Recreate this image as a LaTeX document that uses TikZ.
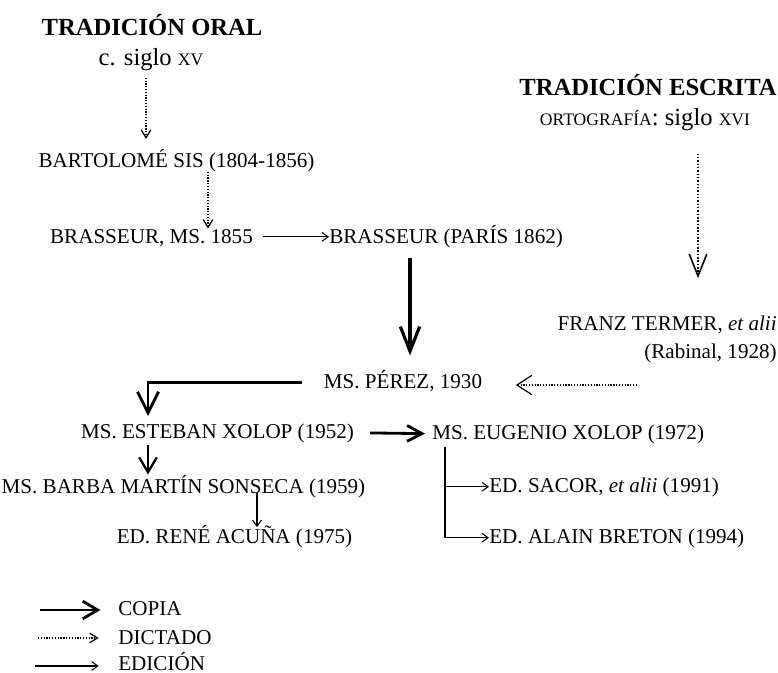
\documentclass[tikz,border=0pt]{standalone}
\usepackage{fontspec}
\setmainfont{Liberation Serif}
\usetikzlibrary{arrows.meta}
\newcommand\versalita[1]{{\fontsize{10}{12}\selectfont #1}}

\begin{document}
\begin{tikzpicture}[x=0.02cm, y=-0.02cm,
    txt/.style={inner sep=0pt, font=\fontsize{12}{14}\selectfont},
    titulo/.style={inner sep=0pt, font=\fontsize{14}{16}\selectfont\bfseries},
    subtitulo/.style={inner sep=0pt, font=\fontsize{14}{16}\selectfont},
    copia/.style 2 args={line width=1.6pt, -{Straight Barb[length=#1, width=#2]}},
    dictado/.style 2 args={line width=0.7pt, dash pattern=on 0.7pt off 0.9pt, -{Straight Barb[length=#1, width=#2]}},
    edicion/.style={line width=0.6pt, -{Straight Barb[length=3.5pt, width=5pt]}}]
    \useasboundingbox (0,0) rectangle (778,673);
    \path
    node[titulo, anchor=base](oral)at(152,35){TRADICIÓN ORAL}
    node[subtitulo, anchor=base](siglo)at(151,65){c. siglo \versalita{XV}}
    node[txt, anchor=base](bartolome)at(176.5,167){BARTOLOMÉ SIS (1804-1856)}
    node[txt, anchor=base](brasseurms)at(151.5,243){BRASSEUR, MS. 1855}
    node[txt, anchor=base west](paris)at(329,243){BRASSEUR (PARÍS 1862)}
    node[titulo, anchor=base east](escrita)at(777,95){TRADICIÓN ESCRITA}
    node[subtitulo, anchor=base](ortografia)at(645,125){\versalita{ORTOGRAFÍA}: siglo \versalita{XVI}}
    node[txt, anchor=base east](termer)at(777,330){FRANZ TERMER, \textit{et alii}}
    node[txt, anchor=base east](rabinal)at(777,358){(Rabinal, 1928)}
    node[txt, anchor=base](perez)at(403,388){MS. PÉREZ, 1930}
    node[txt, anchor=base](esteban)at(217.5,438){MS. ESTEBAN XOLOP (1952)}
    node[txt, anchor=base west](eugenio)at(432,439){MS. EUGENIO XOLOP (1972)}
    node[txt, anchor=base](barba)at(183.5,493){MS. BARBA MARTÍN SONSECA (1959)}
    node[txt, anchor=base](rene)at(234.5,543){ED. RENÉ ACUÑA (1975)}
    node[txt, anchor=base west](sacor)at(489,492){ED. SACOR, \textit{et alii} (1991)}
    node[txt, anchor=base west](breton)at(489,543){ED. ALAIN BRETON (1994)}
    node[txt, anchor=base west](leycopia)at(118,615){COPIA}
    node[txt, anchor=base west](leydictado)at(118,644){DICTADO}
    node[txt, anchor=base west](leyedicion)at(118,670){EDICIÓN}
    ;
    \coordinate (puntos) at (637,385);
    \coordinate (c1) at (40,610);
    \coordinate (c2) at (38,638);
    \coordinate (c3) at (35,666);
    \draw[dictado={4.5pt}{5.5pt}, shorten <=4pt, shorten >=5.5pt] (siglo.south -| 146,0) -- (bartolome.north -| 146,0);
    \draw[dictado={4.5pt}{5.5pt}] (bartolome.south -| 208,0) -- (brasseurms.north -| 208,0);
    \draw[edicion, shorten <=5.4pt] ([yshift=3.5pt]brasseurms.base east) -- ([yshift=3.5pt]paris.base west);
    \draw[copia={14pt}{11pt}, line width=1.8pt, shorten <=5.5pt, shorten >=8pt] (paris.south -| 410,0) -- (perez.north -| 410,0);
    \draw[dictado={12.5pt}{10pt}, line width=0.9pt, dash pattern=on 0.9pt off 1pt, shorten <=13pt, shorten >=21pt] (ortografia.south -| 698,0) -- (termer.north -| 698,0);
    \draw[dictado={8.5pt}{11pt}, shorten >=19pt] (puntos) -- (puntos -| perez.east);
    \draw[copia={12pt}{12pt}, shorten <=12pt, shorten >=4pt] ([yshift=3pt]perez.base west) -| (esteban.north -| 148,0);
    \draw[copia={8.5pt}{9pt}, shorten <=9pt, shorten >=4pt] ([yshift=3pt]esteban.base east) -- ([yshift=3pt]eugenio.base west);
    \draw[copia={8.5pt}{10pt}, line width=1.3pt, shorten <=1pt] (esteban.south -| 148,0) -- (barba.north -| 148,0);
    \draw[edicion, shorten >=9pt] (barba.base -| 257,0) -- (rene.base -| 257,0);
    \draw[edicion, shorten <=2pt] (eugenio.south -| 445,0) |- ([yshift=3pt]sacor.base west);
    \draw[edicion, shorten <=2pt] (eugenio.south -| 445,0) |- ([yshift=3pt]breton.base west);
    \draw[copia={8.5pt}{10pt}, shorten >=10pt] (c1) -- (c1 -| leycopia.west);
    \draw[dictado={4.5pt}{5.5pt}, shorten >=11pt] (c2) -- (c2 -| leydictado.west);
    \draw[edicion, shorten >=11pt] (c3) -- (c3 -| leyedicion.west);
\end{tikzpicture}
\end{document}
